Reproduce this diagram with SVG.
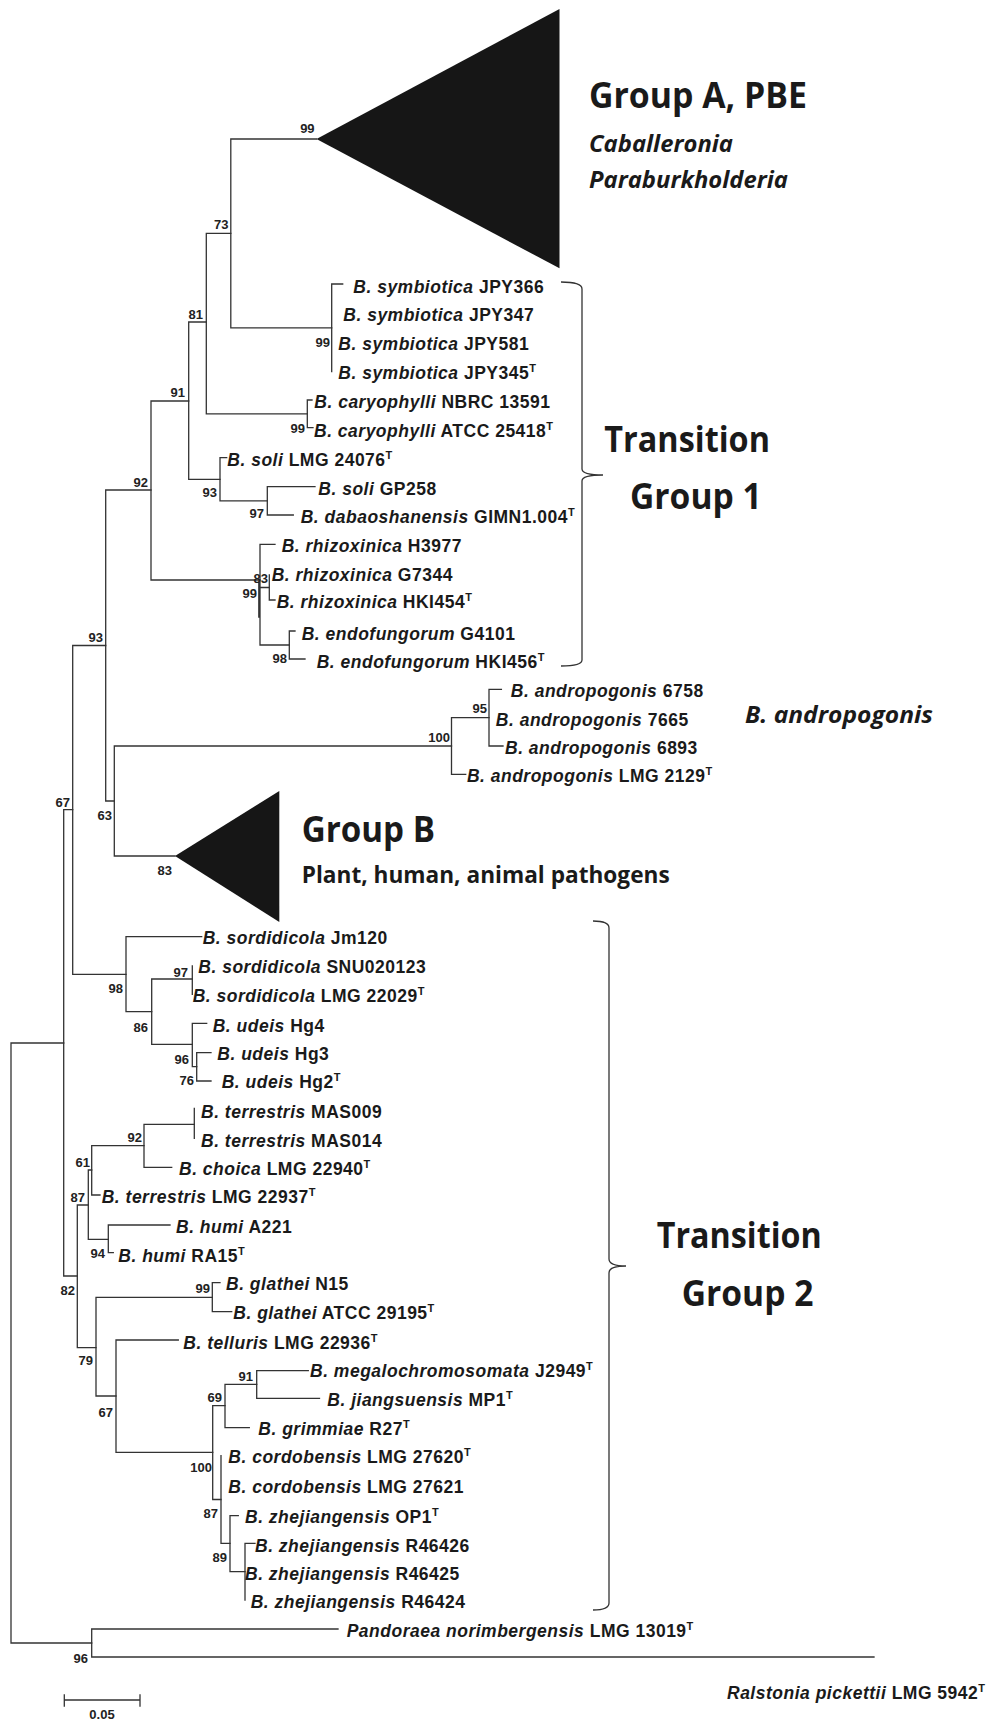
<svg xmlns="http://www.w3.org/2000/svg" width="989" height="1724" viewBox="0 0 989 1724">
<style>
.ln{fill:none;stroke:#333;stroke-width:1.3;stroke-linecap:square}
.lf{font-family:"Liberation Sans",Arial,sans-serif;font-weight:bold;font-size:17.5px;letter-spacing:0.5px;fill:#1a1a1a}
.i{font-style:italic}
.sup{font-size:11px;letter-spacing:0}
.bs{font-family:"Liberation Sans",Arial,sans-serif;font-weight:bold;font-size:13px;fill:#222;text-anchor:end}
.big{font-family:"Open Sans","Noto Sans",sans-serif;font-weight:bold;font-size:35px;fill:#1a1a1a}
.mid{font-family:"Open Sans","Noto Sans",sans-serif;font-weight:bold;font-size:23px;fill:#1a1a1a}
.tri{fill:#161616}
.br{fill:none;stroke:#333;stroke-width:1.3}
</style>
<rect width="989" height="1724" fill="#fff"/>
<g id="connectors" class="ln">
<path d="M11,1043V1643M11,1043H63.7M11,1643H91.7"/>
<path d="M91.7,1629V1657M91.7,1629H338M91.7,1657H874"/>
<path d="M63.7,809.7V1276M63.7,809.7H72.7M63.7,1276H77.3"/>
<path d="M72.7,645.5V974.3M72.7,645.5H105.7M72.7,974.3H126"/>
<path d="M105.7,490V801M105.7,490H151M105.7,801H114.3"/>
<path d="M114.3,746V856M114.3,746H451.5M114.3,856H175"/>
<path d="M151,401V580M151,401H188.7M151,580H260"/>
<path d="M188.7,322V479.3M188.7,322H206.3M188.7,479.3H220"/>
<path d="M206.3,233.3V413.8M206.3,233.3H230.8M206.3,413.8H307.3"/>
<path d="M230.8,139V327.8M230.8,139H316.5M230.8,327.8H331.7"/>
<path d="M331.7,284V371.7M331.7,284H342.7"/>
<path d="M307.3,400V427.7M307.3,400H312M307.3,427.7H313"/>
<path d="M220,457.7V500.8M220,457.7H226.7M220,500.8H267.3"/>
<path d="M267.3,486.7V515M267.3,486.7H315M267.3,515H293.3"/>
<path d="M260,544.3V645M260,544.3H275M260,587.5H269.3M260,645H289.3M258.8,583V617"/>
<path d="M269.3,575V600M269.3,600H275"/>
<path d="M289.3,631V659M289.3,631H295M289.3,659H305"/>
<path d="M451.5,717.7V774.3M451.5,717.7H489M451.5,774.3H465.7"/>
<path d="M489,689.3V746M489,689.3H501.4M489,746H503"/>
<path d="M126,936.7V1011.7M126,936.7H201.7M126,1011.7H151.7"/>
<path d="M151.7,979V1044.3M151.7,979H192.3M151.7,1044.3H192.3"/>
<path d="M192.3,966V994.3"/>
<path d="M192.3,1023.3V1066.7M192.3,1023.3H206.7M192.3,1066.7H196.7"/>
<path d="M196.7,1052.7V1081M196.7,1052.7H211M196.7,1081H211"/>
<path d="M77.3,1205V1347.7M77.3,1205H88.3M77.3,1347.7H96"/>
<path d="M88.3,1170V1239.3M88.3,1170H91.7M88.3,1239.3H108.3"/>
<path d="M91.7,1145.7V1195M91.7,1145.7H144M91.7,1195H100"/>
<path d="M144,1124.3V1167.3M144,1124.3H194.3M144,1167.3H171.7"/>
<path d="M194.3,1108.3V1138.3"/>
<path d="M108.3,1225V1252.7M108.3,1225H170M108.3,1252.7H113.3"/>
<path d="M96,1297.3V1396M96,1297.3H212.3M96,1396H116"/>
<path d="M212.3,1282.7V1311.7M212.3,1282.7H220M212.3,1311.7H231.7"/>
<path d="M116,1340V1452.3M116,1340H178.3M116,1452.3H212.7"/>
<path d="M212.7,1405.7V1499.5M212.7,1405.7H225M212.7,1499.5H221"/>
<path d="M225,1384.3V1427.7M225,1384.3H256.7M225,1427.7H249.3"/>
<path d="M256.7,1370.7V1398.3M256.7,1370.7H308.3M256.7,1398.3H319.5"/>
<path d="M221,1455.7V1543.3M221,1543.3H230"/>
<path d="M230,1515.7V1571.7M230,1515.7H238.3M230,1571.7H245"/>
<path d="M245,1543.3V1600M245,1543.3H255"/>
</g>
<g id="groupA">
<polygon class="tri" points="316.5,139 559.5,9 559.5,268.3"/>
<text class="big" x="589" y="108.3" textLength="218" lengthAdjust="spacingAndGlyphs">Group A, PBE</text>
<text class="mid i" x="589" y="151.7" textLength="144" lengthAdjust="spacingAndGlyphs">Caballeronia</text>
<text class="mid i" x="589" y="188.3" textLength="199" lengthAdjust="spacingAndGlyphs">Paraburkholderia</text>
</g>
<g id="groupB">
<polygon class="tri" points="175,856 279.3,791 279.3,922"/>
<text class="big" x="301.7" y="841.7" textLength="133.3" lengthAdjust="spacingAndGlyphs">Group B</text>
<text class="mid" x="301.7" y="882.7" textLength="368" lengthAdjust="spacingAndGlyphs">Plant, human, animal pathogens</text>
</g>
<g id="transition1">
<path class="br" d="M561,282 Q582,282 582,289 L582,469 Q582,475 603,475 Q582,475 582,481 L582,660 Q582,666 561,666"/>
<text class="big" x="604.3" y="451.7" textLength="165.7" lengthAdjust="spacingAndGlyphs">Transition</text>
<text class="big" x="630" y="509.3" textLength="131.7" lengthAdjust="spacingAndGlyphs">Group 1</text>
</g>
<g id="transition2">
<path class="br" d="M593,921 Q609,921 609,928 L609,1259 Q609,1266 626,1266 Q609,1266 609,1273 L609,1603 Q609,1610 593,1610"/>
<text class="big" x="656.7" y="1248.3" textLength="165" lengthAdjust="spacingAndGlyphs">Transition</text>
<text class="big" x="681.7" y="1306" textLength="131.7" lengthAdjust="spacingAndGlyphs">Group 2</text>
</g>
<g id="andropogonis-label">
<text class="mid i" x="745" y="723" textLength="188" lengthAdjust="spacingAndGlyphs">B. andropogonis</text>
</g>
<g id="leaves" class="lf">
<g id="leaf1"><text x="353.3" y="292.5"><tspan class="i">B. symbiotica</tspan> JPY366</text></g>
<g id="leaf2"><text x="343.3" y="320.7"><tspan class="i">B. symbiotica</tspan> JPY347</text></g>
<g id="leaf3"><text x="338.3" y="350"><tspan class="i">B. symbiotica</tspan> JPY581</text></g>
<g id="leaf4"><text x="338.3" y="378.7"><tspan class="i">B. symbiotica</tspan> JPY345<tspan class="sup" dy="-7">T</tspan></text></g>
<g id="leaf5"><text x="314.3" y="408.3"><tspan class="i">B. caryophylli</tspan> NBRC 13591</text></g>
<g id="leaf6"><text x="314" y="436.7"><tspan class="i">B. caryophylli</tspan> ATCC 25418<tspan class="sup" dy="-7">T</tspan></text></g>
<g id="leaf7"><text x="227.3" y="466"><tspan class="i">B. soli</tspan> LMG 24076<tspan class="sup" dy="-7">T</tspan></text></g>
<g id="leaf8"><text x="318.3" y="495"><tspan class="i">B. soli</tspan> GP258</text></g>
<g id="leaf9"><text x="300.7" y="523"><tspan class="i">B. dabaoshanensis</tspan> GIMN1.004<tspan class="sup" dy="-7">T</tspan></text></g>
<g id="leaf10"><text x="281.7" y="551.7"><tspan class="i">B. rhizoxinica</tspan> H3977</text></g>
<g id="leaf11"><text x="271.7" y="580.5"><tspan class="i">B. rhizoxinica</tspan> G7344</text></g>
<g id="leaf12"><text x="276.7" y="608"><tspan class="i">B. rhizoxinica</tspan> HKI454<tspan class="sup" dy="-7">T</tspan></text></g>
<g id="leaf13"><text x="301.7" y="640"><tspan class="i">B. endofungorum</tspan> G4101</text></g>
<g id="leaf14"><text x="316.7" y="668"><tspan class="i">B. endofungorum</tspan> HKI456<tspan class="sup" dy="-7">T</tspan></text></g>
<g id="leaf15"><text x="510.8" y="696.7"><tspan class="i">B. andropogonis</tspan> 6758</text></g>
<g id="leaf16"><text x="495.8" y="725.7"><tspan class="i">B. andropogonis</tspan> 7665</text></g>
<g id="leaf17"><text x="505" y="754"><tspan class="i">B. andropogonis</tspan> 6893</text></g>
<g id="leaf18"><text x="466.9" y="782"><tspan class="i">B. andropogonis</tspan> LMG 2129<tspan class="sup" dy="-7">T</tspan></text></g>
<g id="leaf19"><text x="202.7" y="944.3"><tspan class="i">B. sordidicola</tspan> Jm120</text></g>
<g id="leaf20"><text x="198.3" y="973.3"><tspan class="i">B. sordidicola</tspan> SNU020123</text></g>
<g id="leaf21"><text x="192.7" y="1001.7"><tspan class="i">B. sordidicola</tspan> LMG 22029<tspan class="sup" dy="-7">T</tspan></text></g>
<g id="leaf22"><text x="212.7" y="1031.7"><tspan class="i">B. udeis</tspan> Hg4</text></g>
<g id="leaf23"><text x="217.3" y="1060"><tspan class="i">B. udeis</tspan> Hg3</text></g>
<g id="leaf24"><text x="221.7" y="1088.3"><tspan class="i">B. udeis</tspan> Hg2<tspan class="sup" dy="-7">T</tspan></text></g>
<g id="leaf25"><text x="201" y="1118.3"><tspan class="i">B. terrestris</tspan> MAS009</text></g>
<g id="leaf26"><text x="201" y="1146.7"><tspan class="i">B. terrestris</tspan> MAS014</text></g>
<g id="leaf27"><text x="179" y="1175"><tspan class="i">B. choica</tspan> LMG 22940<tspan class="sup" dy="-7">T</tspan></text></g>
<g id="leaf28"><text x="101.7" y="1203.3"><tspan class="i">B. terrestris</tspan> LMG 22937<tspan class="sup" dy="-7">T</tspan></text></g>
<g id="leaf29"><text x="176" y="1233.3"><tspan class="i">B. humi</tspan> A221</text></g>
<g id="leaf30"><text x="118.3" y="1261.7"><tspan class="i">B. humi</tspan> RA15<tspan class="sup" dy="-7">T</tspan></text></g>
<g id="leaf31"><text x="226" y="1290"><tspan class="i">B. glathei</tspan> N15</text></g>
<g id="leaf32"><text x="233.3" y="1319.3"><tspan class="i">B. glathei</tspan> ATCC 29195<tspan class="sup" dy="-7">T</tspan></text></g>
<g id="leaf33"><text x="183.3" y="1349"><tspan class="i">B. telluris</tspan> LMG 22936<tspan class="sup" dy="-7">T</tspan></text></g>
<g id="leaf34"><text x="310" y="1377.3"><tspan class="i">B. megalochromosomata</tspan> J2949<tspan class="sup" dy="-7">T</tspan></text></g>
<g id="leaf35"><text x="327.3" y="1406"><tspan class="i">B. jiangsuensis</tspan> MP1<tspan class="sup" dy="-7">T</tspan></text></g>
<g id="leaf36"><text x="258.3" y="1435"><tspan class="i">B. grimmiae</tspan> R27<tspan class="sup" dy="-7">T</tspan></text></g>
<g id="leaf37"><text x="228.3" y="1463.3"><tspan class="i">B. cordobensis</tspan> LMG 27620<tspan class="sup" dy="-7">T</tspan></text></g>
<g id="leaf38"><text x="228.3" y="1492.7"><tspan class="i">B. cordobensis</tspan> LMG 27621</text></g>
<g id="leaf39"><text x="245" y="1522.7"><tspan class="i">B. zhejiangensis</tspan> OP1<tspan class="sup" dy="-7">T</tspan></text></g>
<g id="leaf40"><text x="255" y="1551.7"><tspan class="i">B. zhejiangensis</tspan> R46426</text></g>
<g id="leaf41"><text x="245" y="1580"><tspan class="i">B. zhejiangensis</tspan> R46425</text></g>
<g id="leaf42"><text x="250.7" y="1608.3"><tspan class="i">B. zhejiangensis</tspan> R46424</text></g>
<g id="leaf43"><text x="346.7" y="1636.7"><tspan class="i">Pandoraea norimbergensis</tspan> LMG 13019<tspan class="sup" dy="-7">T</tspan></text></g>
<g id="leaf44"><text x="727" y="1699"><tspan class="i">Ralstonia pickettii</tspan> LMG 5942<tspan class="sup" dy="-7">T</tspan></text></g>
</g>
<g id="bootstrap" class="bs">
<text x="314.6" y="133.3">99</text>
<text x="228.5" y="229.3">73</text>
<text x="203" y="319">81</text>
<text x="330" y="347">99</text>
<text x="185" y="397">91</text>
<text x="305" y="433">99</text>
<text x="217" y="497">93</text>
<text x="148" y="487">92</text>
<text x="264" y="518">97</text>
<text x="268" y="583">83</text>
<text x="257" y="598">99</text>
<text x="287" y="663">98</text>
<text x="103" y="642">93</text>
<text x="487" y="713">95</text>
<text x="450" y="742">100</text>
<text x="112" y="820">63</text>
<text x="70" y="807">67</text>
<text x="172" y="875">83</text>
<text x="123" y="993">98</text>
<text x="188" y="977">97</text>
<text x="148" y="1032">86</text>
<text x="189" y="1064">96</text>
<text x="194" y="1085">76</text>
<text x="142" y="1142">92</text>
<text x="90" y="1167">61</text>
<text x="85" y="1202">87</text>
<text x="105" y="1258">94</text>
<text x="75" y="1295">82</text>
<text x="210" y="1293">99</text>
<text x="93" y="1365">79</text>
<text x="113" y="1417">67</text>
<text x="253" y="1381">91</text>
<text x="222" y="1402">69</text>
<text x="212" y="1472">100</text>
<text x="218" y="1518">87</text>
<text x="227" y="1562">89</text>
<text x="88" y="1663">96</text>
</g>
<g id="scalebar">
<path class="ln" d="M64.3,1700H140M64.3,1695V1706M140,1695V1706"/>
<text class="bs" x="102" y="1719.3" style="text-anchor:middle">0.05</text>
</g>
</svg>
